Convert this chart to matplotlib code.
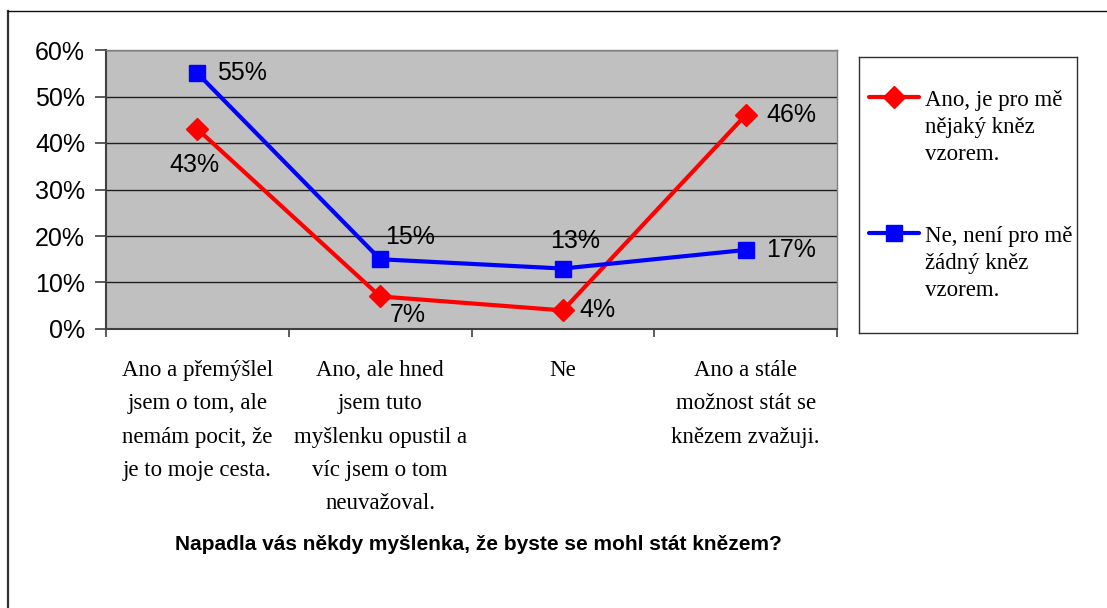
import matplotlib
matplotlib.use("Agg")
import matplotlib.pyplot as plt
from matplotlib.lines import Line2D

categories = [
    "Ano a přemýšlel\njsem o tom, ale\nnemám pocit, že\nje to moje cesta.",
    "Ano, ale hned\njsem tuto\nmyšlenku opustil a\nvíc jsem o tom\nneuvažoval.",
    "Ne",
    "Ano a stále\nmožnost stát se\nknězem zvažuji.",
]
series_names = ["Ano, je pro mě\nnějaký kněz\nvzorem.", "Ne, není pro mě\nžádný kněz\nvzorem."]
ano_values = [43, 7, 4, 46]
ne_values = [55, 15, 13, 17]
y_ticks = [0, 10, 20, 30, 40, 50, 60]
y_tick_labels = ["0%", "10%", "20%", "30%", "40%", "50%", "60%"]
title = "Napadla vás někdy myšlenka, že byste se mohl stát knězem?"

W, H = 1107, 608
fig = plt.figure(figsize=(W / 100, H / 100), dpi=100)
fig.patch.set_facecolor("white")

def fx(px):
    return px / W

def fy(py):
    return 1 - py / H

ax = fig.add_axes([fx(106), fy(329), fx(837) - fx(106), fy(50) - fy(329)])
ax.set_facecolor("#C0C0C0")
ax.set_xlim(-0.5, 3.5)
ax.set_ylim(0, 60)

for s in ["top", "right"]:
    ax.spines[s].set_color("#808080")
    ax.spines[s].set_linewidth(1)
for s in ["left", "bottom"]:
    ax.spines[s].set_color("#404040")
    ax.spines[s].set_linewidth(1.5)

ax.set_yticks(y_ticks)
ax.set_yticklabels(y_tick_labels, fontfamily="Liberation Sans", fontsize=18)
ax.yaxis.grid(True, color="#202020", linewidth=1)
ax.set_axisbelow(True)
ax.tick_params(axis="y", direction="out", length=8, width=1.2, color="#404040", pad=7)

xs = list(range(len(categories)))
ax.set_xticks([i - 0.5 for i in range(len(categories) + 1)])
ax.set_xticklabels([])
ax.tick_params(axis="x", which="major", direction="out", length=6, width=1.2, color="#404040")
ax.set_xticks(xs, minor=True)
ax.set_xticklabels(categories, minor=True, fontfamily="Liberation Serif", fontsize=16.5,
                   linespacing=1.78)
ax.tick_params(axis="x", which="minor", length=0, pad=22)

ax.plot(xs, ano_values, color="#FF0000", linewidth=3, marker="D", markersize=11,
        markerfacecolor="#FF0000", markeredgecolor="#FF0000", zorder=3)
ax.plot(xs, ne_values, color="#0000FF", linewidth=3, marker="s", markersize=12,
        markerfacecolor="#0000FF", markeredgecolor="#0000FF", zorder=4)

ano_offsets = [(-3, -36, "center"), (28, -19, "center"), (35, 0, "center"), (21, 0, "left")]
ne_offsets = [(20, 0, "left"), (30, 22, "center"), (12, 28, "center"), (21, 0, "left")]
for i, v in enumerate(ano_values):
    dx, dy, ha = ano_offsets[i]
    ax.annotate(f"{v}%", (xs[i], v), xytext=(dx, dy), textcoords="offset pixels",
                ha=ha, va="center", fontsize=18, fontfamily="Liberation Sans", zorder=5)
for i, v in enumerate(ne_values):
    dx, dy, ha = ne_offsets[i]
    ax.annotate(f"{v}%", (xs[i], v), xytext=(dx, dy), textcoords="offset pixels",
                ha=ha, va="center", fontsize=18, fontfamily="Liberation Sans", zorder=5)

fig.text(fx(478), fy(545), title, ha="center", va="center", fontsize=15,
         fontweight="bold", fontfamily="Liberation Sans")

# Legend box
lax = fig.add_axes([fx(859), fy(333), fx(1077) - fx(859), fy(57) - fy(333)])
lax.set_xlim(859, 1077)
lax.set_ylim(333, 57)
lax.set_xticks([])
lax.set_yticks([])
for s in lax.spines.values():
    s.set_color("#303030")
    s.set_linewidth(1)
entries = [
    (series_names[0], "#FF0000", "D", 11, 97),
    (series_names[1], "#0000FF", "s", 12, 233),
]
for name, col, mk, ms, yc in entries:
    lax.plot([869, 919], [yc, yc], color=col, linewidth=3, solid_capstyle="round")
    lax.plot([894], [yc], color=col, marker=mk, markersize=ms, linestyle="none")
    lax.text(925, yc - 7, name, ha="left", va="top", fontsize=16.5,
             fontfamily="Liberation Serif", linespacing=1.37)

# Outer chart border (left and top visible)
fig.add_artist(Line2D([fx(8), fx(8)], [fy(11), -0.01], color="#303030", linewidth=1.6,
                      transform=fig.transFigure))
fig.add_artist(Line2D([fx(8), 1.01], [fy(11), fy(11)], color="#101010", linewidth=1.0,
                      transform=fig.transFigure))

fig.savefig("out.png", dpi=100)
